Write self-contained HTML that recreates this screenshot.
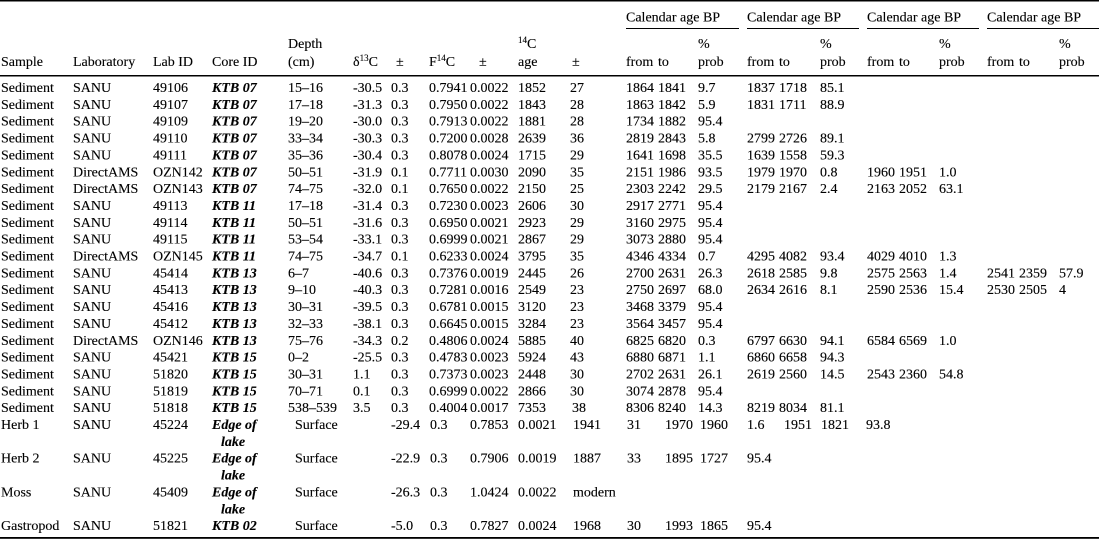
<!DOCTYPE html>
<html>
<head>
<meta charset="utf-8">
<style>
  html,body{margin:0;padding:0;background:#fff;}
  svg{display:block;}
  text{font-family:"Liberation Serif","Times New Roman",serif;font-size:14px;fill:#000;stroke:#000;stroke-width:0.12px;}
  .bi{font-weight:bold;font-style:italic;}
</style>
</head>
<body>
<svg width="1099" height="540" viewBox="0 0 1099 540" xmlns="http://www.w3.org/2000/svg">
  <!-- rules -->
  <rect x="0" y="0" width="1099" height="1.5" fill="#000"/>
  <rect x="626" y="28" width="113" height="1" fill="#000"/>
  <rect x="747" y="28" width="112" height="1" fill="#000"/>
  <rect x="867" y="28" width="112" height="1" fill="#000"/>
  <rect x="987" y="28" width="112" height="1" fill="#000"/>
  <rect x="0" y="75" width="1099" height="1.5" fill="#000"/>
  <rect x="0" y="537" width="1099" height="1.8" fill="#000"/>

  <!-- header -->
  <text y="21.5"><tspan x="626">Calendar age BP</tspan><tspan x="747">Calendar age BP</tspan><tspan x="867">Calendar age BP</tspan><tspan x="987">Calendar age BP</tspan></text>
  <text y="48"><tspan x="288">Depth</tspan><tspan x="698">%</tspan><tspan x="820">%</tspan><tspan x="939">%</tspan><tspan x="1059">%</tspan></text>
  <text x="518" y="48"><tspan font-size="9" dy="-5">14</tspan><tspan dy="5">C</tspan></text>
  <text y="66"><tspan x="1">Sample</tspan><tspan x="73">Laboratory</tspan><tspan x="153">Lab ID</tspan><tspan x="212">Core ID</tspan><tspan x="288">(cm)</tspan><tspan x="396">±</tspan><tspan x="479">±</tspan><tspan x="518">age</tspan><tspan x="572">±</tspan><tspan x="626">from</tspan><tspan x="658">to</tspan><tspan x="698">prob</tspan><tspan x="747">from</tspan><tspan x="779">to</tspan><tspan x="820">prob</tspan><tspan x="867">from</tspan><tspan x="899">to</tspan><tspan x="939">prob</tspan><tspan x="987">from</tspan><tspan x="1019">to</tspan><tspan x="1059">prob</tspan></text>
  <text x="353" y="66">δ<tspan font-size="9" dy="-5">13</tspan><tspan dy="5">C</tspan></text>
  <text x="429" y="66">F<tspan font-size="9" dy="-5">14</tspan><tspan dy="5">C</tspan></text>

  <!-- data rows -->
  <text y="92"><tspan x="1">Sediment</tspan><tspan x="73">SANU</tspan><tspan x="153">49106</tspan><tspan x="212" class="bi">KTB 07</tspan><tspan x="288">15–16</tspan><tspan x="353">-30.5</tspan><tspan x="391">0.3</tspan><tspan x="429">0.7941</tspan><tspan x="470">0.0022</tspan><tspan x="518">1852</tspan><tspan x="570">27</tspan><tspan x="626">1864</tspan><tspan x="658">1841</tspan><tspan x="698">9.7</tspan><tspan x="747">1837</tspan><tspan x="779">1718</tspan><tspan x="820">85.1</tspan></text>
  <text y="108.85"><tspan x="1">Sediment</tspan><tspan x="73">SANU</tspan><tspan x="153">49107</tspan><tspan x="212" class="bi">KTB 07</tspan><tspan x="288">17–18</tspan><tspan x="353">-31.3</tspan><tspan x="391">0.3</tspan><tspan x="429">0.7950</tspan><tspan x="470">0.0022</tspan><tspan x="518">1843</tspan><tspan x="570">28</tspan><tspan x="626">1863</tspan><tspan x="658">1842</tspan><tspan x="698">5.9</tspan><tspan x="747">1831</tspan><tspan x="779">1711</tspan><tspan x="820">88.9</tspan></text>
  <text y="125.7"><tspan x="1">Sediment</tspan><tspan x="73">SANU</tspan><tspan x="153">49109</tspan><tspan x="212" class="bi">KTB 07</tspan><tspan x="288">19–20</tspan><tspan x="353">-30.0</tspan><tspan x="391">0.3</tspan><tspan x="429">0.7913</tspan><tspan x="470">0.0022</tspan><tspan x="518">1881</tspan><tspan x="570">28</tspan><tspan x="626">1734</tspan><tspan x="658">1882</tspan><tspan x="698">95.4</tspan></text>
  <text y="142.55"><tspan x="1">Sediment</tspan><tspan x="73">SANU</tspan><tspan x="153">49110</tspan><tspan x="212" class="bi">KTB 07</tspan><tspan x="288">33–34</tspan><tspan x="353">-30.3</tspan><tspan x="391">0.3</tspan><tspan x="429">0.7200</tspan><tspan x="470">0.0028</tspan><tspan x="518">2639</tspan><tspan x="570">36</tspan><tspan x="626">2819</tspan><tspan x="658">2843</tspan><tspan x="698">5.8</tspan><tspan x="747">2799</tspan><tspan x="779">2726</tspan><tspan x="820">89.1</tspan></text>
  <text y="159.4"><tspan x="1">Sediment</tspan><tspan x="73">SANU</tspan><tspan x="153">49111</tspan><tspan x="212" class="bi">KTB 07</tspan><tspan x="288">35–36</tspan><tspan x="353">-30.4</tspan><tspan x="391">0.3</tspan><tspan x="429">0.8078</tspan><tspan x="470">0.0024</tspan><tspan x="518">1715</tspan><tspan x="570">29</tspan><tspan x="626">1641</tspan><tspan x="658">1698</tspan><tspan x="698">35.5</tspan><tspan x="747">1639</tspan><tspan x="779">1558</tspan><tspan x="820">59.3</tspan></text>
  <text y="176.25"><tspan x="1">Sediment</tspan><tspan x="73">DirectAMS</tspan><tspan x="153">OZN142</tspan><tspan x="212" class="bi">KTB 07</tspan><tspan x="288">50–51</tspan><tspan x="353">-31.9</tspan><tspan x="391">0.1</tspan><tspan x="429">0.7711</tspan><tspan x="470">0.0030</tspan><tspan x="518">2090</tspan><tspan x="570">35</tspan><tspan x="626">2151</tspan><tspan x="658">1986</tspan><tspan x="698">93.5</tspan><tspan x="747">1979</tspan><tspan x="779">1970</tspan><tspan x="820">0.8</tspan><tspan x="867">1960</tspan><tspan x="899">1951</tspan><tspan x="939">1.0</tspan></text>
  <text y="193.1"><tspan x="1">Sediment</tspan><tspan x="73">DirectAMS</tspan><tspan x="153">OZN143</tspan><tspan x="212" class="bi">KTB 07</tspan><tspan x="288">74–75</tspan><tspan x="353">-32.0</tspan><tspan x="391">0.1</tspan><tspan x="429">0.7650</tspan><tspan x="470">0.0022</tspan><tspan x="518">2150</tspan><tspan x="570">25</tspan><tspan x="626">2303</tspan><tspan x="658">2242</tspan><tspan x="698">29.5</tspan><tspan x="747">2179</tspan><tspan x="779">2167</tspan><tspan x="820">2.4</tspan><tspan x="867">2163</tspan><tspan x="899">2052</tspan><tspan x="939">63.1</tspan></text>
  <text y="209.95"><tspan x="1">Sediment</tspan><tspan x="73">SANU</tspan><tspan x="153">49113</tspan><tspan x="212" class="bi">KTB 11</tspan><tspan x="288">17–18</tspan><tspan x="353">-31.4</tspan><tspan x="391">0.3</tspan><tspan x="429">0.7230</tspan><tspan x="470">0.0023</tspan><tspan x="518">2606</tspan><tspan x="570">30</tspan><tspan x="626">2917</tspan><tspan x="658">2771</tspan><tspan x="698">95.4</tspan></text>
  <text y="226.8"><tspan x="1">Sediment</tspan><tspan x="73">SANU</tspan><tspan x="153">49114</tspan><tspan x="212" class="bi">KTB 11</tspan><tspan x="288">50–51</tspan><tspan x="353">-31.6</tspan><tspan x="391">0.3</tspan><tspan x="429">0.6950</tspan><tspan x="470">0.0021</tspan><tspan x="518">2923</tspan><tspan x="570">29</tspan><tspan x="626">3160</tspan><tspan x="658">2975</tspan><tspan x="698">95.4</tspan></text>
  <text y="243.65"><tspan x="1">Sediment</tspan><tspan x="73">SANU</tspan><tspan x="153">49115</tspan><tspan x="212" class="bi">KTB 11</tspan><tspan x="288">53–54</tspan><tspan x="353">-33.1</tspan><tspan x="391">0.3</tspan><tspan x="429">0.6999</tspan><tspan x="470">0.0021</tspan><tspan x="518">2867</tspan><tspan x="570">29</tspan><tspan x="626">3073</tspan><tspan x="658">2880</tspan><tspan x="698">95.4</tspan></text>
  <text y="260.5"><tspan x="1">Sediment</tspan><tspan x="73">DirectAMS</tspan><tspan x="153">OZN145</tspan><tspan x="212" class="bi">KTB 11</tspan><tspan x="288">74–75</tspan><tspan x="353">-34.7</tspan><tspan x="391">0.1</tspan><tspan x="429">0.6233</tspan><tspan x="470">0.0024</tspan><tspan x="518">3795</tspan><tspan x="570">35</tspan><tspan x="626">4346</tspan><tspan x="658">4334</tspan><tspan x="698">0.7</tspan><tspan x="747">4295</tspan><tspan x="779">4082</tspan><tspan x="820">93.4</tspan><tspan x="867">4029</tspan><tspan x="899">4010</tspan><tspan x="939">1.3</tspan></text>
  <text y="277.35"><tspan x="1">Sediment</tspan><tspan x="73">SANU</tspan><tspan x="153">45414</tspan><tspan x="212" class="bi">KTB 13</tspan><tspan x="288">6–7</tspan><tspan x="353">-40.6</tspan><tspan x="391">0.3</tspan><tspan x="429">0.7376</tspan><tspan x="470">0.0019</tspan><tspan x="518">2445</tspan><tspan x="570">26</tspan><tspan x="626">2700</tspan><tspan x="658">2631</tspan><tspan x="698">26.3</tspan><tspan x="747">2618</tspan><tspan x="779">2585</tspan><tspan x="820">9.8</tspan><tspan x="867">2575</tspan><tspan x="899">2563</tspan><tspan x="939">1.4</tspan><tspan x="987">2541</tspan><tspan x="1019">2359</tspan><tspan x="1059">57.9</tspan></text>
  <text y="294.2"><tspan x="1">Sediment</tspan><tspan x="73">SANU</tspan><tspan x="153">45413</tspan><tspan x="212" class="bi">KTB 13</tspan><tspan x="288">9–10</tspan><tspan x="353">-40.3</tspan><tspan x="391">0.3</tspan><tspan x="429">0.7281</tspan><tspan x="470">0.0016</tspan><tspan x="518">2549</tspan><tspan x="570">23</tspan><tspan x="626">2750</tspan><tspan x="658">2697</tspan><tspan x="698">68.0</tspan><tspan x="747">2634</tspan><tspan x="779">2616</tspan><tspan x="820">8.1</tspan><tspan x="867">2590</tspan><tspan x="899">2536</tspan><tspan x="939">15.4</tspan><tspan x="987">2530</tspan><tspan x="1019">2505</tspan><tspan x="1059">4</tspan></text>
  <text y="311.05"><tspan x="1">Sediment</tspan><tspan x="73">SANU</tspan><tspan x="153">45416</tspan><tspan x="212" class="bi">KTB 13</tspan><tspan x="288">30–31</tspan><tspan x="353">-39.5</tspan><tspan x="391">0.3</tspan><tspan x="429">0.6781</tspan><tspan x="470">0.0015</tspan><tspan x="518">3120</tspan><tspan x="570">23</tspan><tspan x="626">3468</tspan><tspan x="658">3379</tspan><tspan x="698">95.4</tspan></text>
  <text y="327.9"><tspan x="1">Sediment</tspan><tspan x="73">SANU</tspan><tspan x="153">45412</tspan><tspan x="212" class="bi">KTB 13</tspan><tspan x="288">32–33</tspan><tspan x="353">-38.1</tspan><tspan x="391">0.3</tspan><tspan x="429">0.6645</tspan><tspan x="470">0.0015</tspan><tspan x="518">3284</tspan><tspan x="570">23</tspan><tspan x="626">3564</tspan><tspan x="658">3457</tspan><tspan x="698">95.4</tspan></text>
  <text y="344.75"><tspan x="1">Sediment</tspan><tspan x="73">DirectAMS</tspan><tspan x="153">OZN146</tspan><tspan x="212" class="bi">KTB 13</tspan><tspan x="288">75–76</tspan><tspan x="353">-34.3</tspan><tspan x="391">0.2</tspan><tspan x="429">0.4806</tspan><tspan x="470">0.0024</tspan><tspan x="518">5885</tspan><tspan x="570">40</tspan><tspan x="626">6825</tspan><tspan x="658">6820</tspan><tspan x="698">0.3</tspan><tspan x="747">6797</tspan><tspan x="779">6630</tspan><tspan x="820">94.1</tspan><tspan x="867">6584</tspan><tspan x="899">6569</tspan><tspan x="939">1.0</tspan></text>
  <text y="361.6"><tspan x="1">Sediment</tspan><tspan x="73">SANU</tspan><tspan x="153">45421</tspan><tspan x="212" class="bi">KTB 15</tspan><tspan x="288">0–2</tspan><tspan x="353">-25.5</tspan><tspan x="391">0.3</tspan><tspan x="429">0.4783</tspan><tspan x="470">0.0023</tspan><tspan x="518">5924</tspan><tspan x="570">43</tspan><tspan x="626">6880</tspan><tspan x="658">6871</tspan><tspan x="698">1.1</tspan><tspan x="747">6860</tspan><tspan x="779">6658</tspan><tspan x="820">94.3</tspan></text>
  <text y="378.45"><tspan x="1">Sediment</tspan><tspan x="73">SANU</tspan><tspan x="153">51820</tspan><tspan x="212" class="bi">KTB 15</tspan><tspan x="288">30–31</tspan><tspan x="353">1.1</tspan><tspan x="391">0.3</tspan><tspan x="429">0.7373</tspan><tspan x="470">0.0023</tspan><tspan x="518">2448</tspan><tspan x="570">30</tspan><tspan x="626">2702</tspan><tspan x="658">2631</tspan><tspan x="698">26.1</tspan><tspan x="747">2619</tspan><tspan x="779">2560</tspan><tspan x="820">14.5</tspan><tspan x="867">2543</tspan><tspan x="899">2360</tspan><tspan x="939">54.8</tspan></text>
  <text y="395.3"><tspan x="1">Sediment</tspan><tspan x="73">SANU</tspan><tspan x="153">51819</tspan><tspan x="212" class="bi">KTB 15</tspan><tspan x="288">70–71</tspan><tspan x="353">0.1</tspan><tspan x="391">0.3</tspan><tspan x="429">0.6999</tspan><tspan x="470">0.0022</tspan><tspan x="518">2866</tspan><tspan x="570">30</tspan><tspan x="626">3074</tspan><tspan x="658">2878</tspan><tspan x="698">95.4</tspan></text>
  <text y="412.15"><tspan x="1">Sediment</tspan><tspan x="73">SANU</tspan><tspan x="153">51818</tspan><tspan x="212" class="bi">KTB 15</tspan><tspan x="288">538–539</tspan><tspan x="353">3.5</tspan><tspan x="391">0.3</tspan><tspan x="429">0.4004</tspan><tspan x="470">0.0017</tspan><tspan x="518">7353</tspan><tspan x="572">38</tspan><tspan x="626">8306</tspan><tspan x="658">8240</tspan><tspan x="698">14.3</tspan><tspan x="747">8219</tspan><tspan x="779">8034</tspan><tspan x="820">81.1</tspan></text>

  <!-- herb / moss / gastropod rows (shifted) -->
  <text y="429"><tspan x="1">Herb 1</tspan><tspan x="73">SANU</tspan><tspan x="153">45224</tspan><tspan x="212" class="bi">Edge of</tspan><tspan x="295">Surface</tspan><tspan x="391">-29.4</tspan><tspan x="430">0.3</tspan><tspan x="470">0.7853</tspan><tspan x="518">0.0021</tspan><tspan x="573">1941</tspan><tspan x="627">31</tspan><tspan x="665">1970</tspan><tspan x="700">1960</tspan><tspan x="747">1.6</tspan><tspan x="784">1951</tspan><tspan x="821">1821</tspan><tspan x="866">93.8</tspan></text>
  <text y="445.85" x="221" class="bi">lake</text>
  <text y="462.7"><tspan x="1">Herb 2</tspan><tspan x="73">SANU</tspan><tspan x="153">45225</tspan><tspan x="212" class="bi">Edge of</tspan><tspan x="295">Surface</tspan><tspan x="391">-22.9</tspan><tspan x="430">0.3</tspan><tspan x="470">0.7906</tspan><tspan x="518">0.0019</tspan><tspan x="573">1887</tspan><tspan x="627">33</tspan><tspan x="665">1895</tspan><tspan x="700">1727</tspan><tspan x="747">95.4</tspan></text>
  <text y="479.55" x="221" class="bi">lake</text>
  <text y="496.4"><tspan x="1">Moss</tspan><tspan x="73">SANU</tspan><tspan x="153">45409</tspan><tspan x="212" class="bi">Edge of</tspan><tspan x="295">Surface</tspan><tspan x="391">-26.3</tspan><tspan x="430">0.3</tspan><tspan x="470">1.0424</tspan><tspan x="518">0.0022</tspan><tspan x="573">modern</tspan></text>
  <text y="513.25" x="221" class="bi">lake</text>
  <text y="530.1"><tspan x="1">Gastropod</tspan><tspan x="73">SANU</tspan><tspan x="153">51821</tspan><tspan x="212" class="bi">KTB 02</tspan><tspan x="295">Surface</tspan><tspan x="391">-5.0</tspan><tspan x="430">0.3</tspan><tspan x="470">0.7827</tspan><tspan x="518">0.0024</tspan><tspan x="573">1968</tspan><tspan x="627">30</tspan><tspan x="665">1993</tspan><tspan x="700">1865</tspan><tspan x="747">95.4</tspan></text>
</svg>
</body>
</html>
